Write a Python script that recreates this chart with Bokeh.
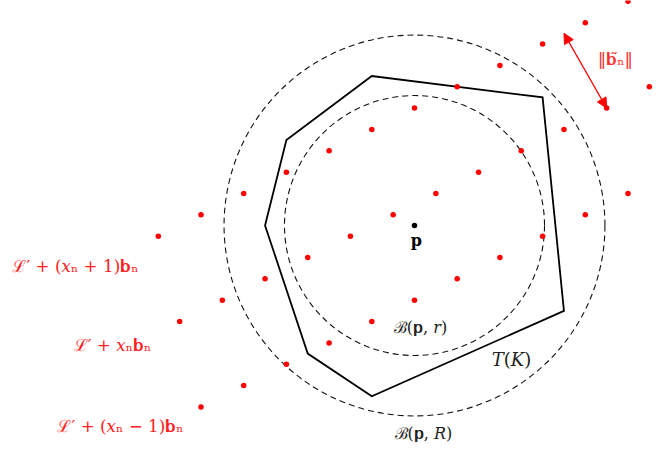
from bokeh.plotting import figure
from bokeh.models import Arrow, NormalHead
from bokeh.core.properties import value
from bokeh.embed import file_html
from bokeh.resources import INLINE

# Lattice points (units: lattice grid; p at the origin)
row_top_x = [-12, -10, -8, -6, -4, -2, 0, 2, 4, 6, 8, 10]
row_top_y = [-0.5, 0.5, 1.5, 2.5, 3.5, 4.5, 5.5, 6.5, 7.5, 8.5, 9.5, 10.5]
row_mid_x = [-11, -9, -7, -5, -3, -1, 1, 3, 5, 7, 9, 11]
row_mid_y = [-4.5, -3.5, -2.5, -1.5, -0.5, 0.5, 1.5, 2.5, 3.5, 4.5, 5.5, 6.5]
row_bot_x = [-10, -8, -6, -4, -2, 0, 2, 4, 6, 8, 10]
row_bot_y = [-8.5, -7.5, -6.5, -5.5, -4.5, -3.5, -2.5, -1.5, -0.5, 0.5, 1.5]

# Centre p and the two balls
p_x, p_y = [0.0], [0.0]
r_small = 6.09
r_large = 8.92

# Convex body T(K)
K_x = [-7, -6, -2, 6, 7, -2, -5]
K_y = [0, 4, 7, 6, -4, -8, -6]

# Arrow showing ||b~_n||
arrow_start = (7.0, 9.0)
arrow_end = (9.0, 5.5)

# Labels
row_labels = ["ℒ′ + (𝑥ₙ + 1)𝐛ₙ", "ℒ′ + 𝑥ₙ𝐛ₙ", "ℒ′ + (𝑥ₙ − 1)𝐛ₙ"]
row_label_x = [-15.88, -14.15, -13.77]
row_label_y = [-1.92, -5.62, -9.37]
ball_labels = ["ℬ(𝐩, 𝑟)", "ℬ(𝐩, 𝑅)"]
ball_label_x = [0.28, 0.42]
ball_label_y = [-4.78, -9.74]
body_label = "𝑇(𝐾)"
body_label_pos = (4.54, -6.28)
norm_label = "‖𝐛̃ₙ‖"
norm_label_pos = (9.41, 7.82)

RED = "#ff0000"
FONT = value("DejaVu Serif")

p = figure(width=668, height=450, x_range=(-19.391, 11.897), y_range=(-10.539, 10.539),
           x_axis_type=None, y_axis_type=None, toolbar_location=None,
           output_backend="svg", min_border=0, outline_line_color=None,
           background_fill_color="white", border_fill_color="white")
p.grid.visible = False

# dashed balls
p.circle(x=p_x, y=p_y, radius=r_small, fill_color=None, line_color="#111111",
         line_width=1.1, line_dash="6 4")
p.circle(x=p_x, y=p_y, radius=r_large, fill_color=None, line_color="#111111",
         line_width=1.1, line_dash="6 4")

# polygon
p.patch(x=K_x, y=K_y, fill_color=None, line_color="black", line_width=1.8,
        line_join="miter")

# lattice points
for xs, ys in [(row_top_x, row_top_y), (row_mid_x, row_mid_y), (row_bot_x, row_bot_y)]:
    p.scatter(x=xs, y=ys, size=5.5, color=RED, line_width=0)

# centre
p.scatter(x=p_x, y=p_y, size=5.5, color="black", line_width=0)
p.text(x=[0.09], y=[-0.72], text=["p"], text_font=FONT, text_font_style="bold",
       text_font_size="16px", text_align="center", text_baseline="middle",
       text_color="black")

# arrow
p.add_layout(Arrow(x_start=arrow_start[0], y_start=arrow_start[1],
                   x_end=arrow_end[0], y_end=arrow_end[1],
                   line_color=RED, line_width=1.2,
                   start=NormalHead(size=10, fill_color=RED, line_color=RED),
                   end=NormalHead(size=10, fill_color=RED, line_color=RED)))

p.text(x=[norm_label_pos[0]], y=[norm_label_pos[1]], text=[norm_label],
       text_font=FONT, text_font_size="17px", text_align="center",
       text_baseline="middle", text_color="#ff3030")

p.text(x=row_label_x, y=row_label_y, text=row_labels, text_font=FONT,
       text_font_size="16.8px", text_align="center", text_baseline="middle",
       text_color="#ff2020")
p.text(x=ball_label_x, y=ball_label_y, text=ball_labels, text_font=FONT,
       text_font_size="16px", text_align="center", text_baseline="middle",
       text_color="#222222")
p.text(x=[body_label_pos[0]], y=[body_label_pos[1]], text=[body_label], text_font=FONT,
       text_font_size="18px", text_align="center", text_baseline="middle",
       text_color="#222222")

open("out.html", "w").write(file_html(p, INLINE))
